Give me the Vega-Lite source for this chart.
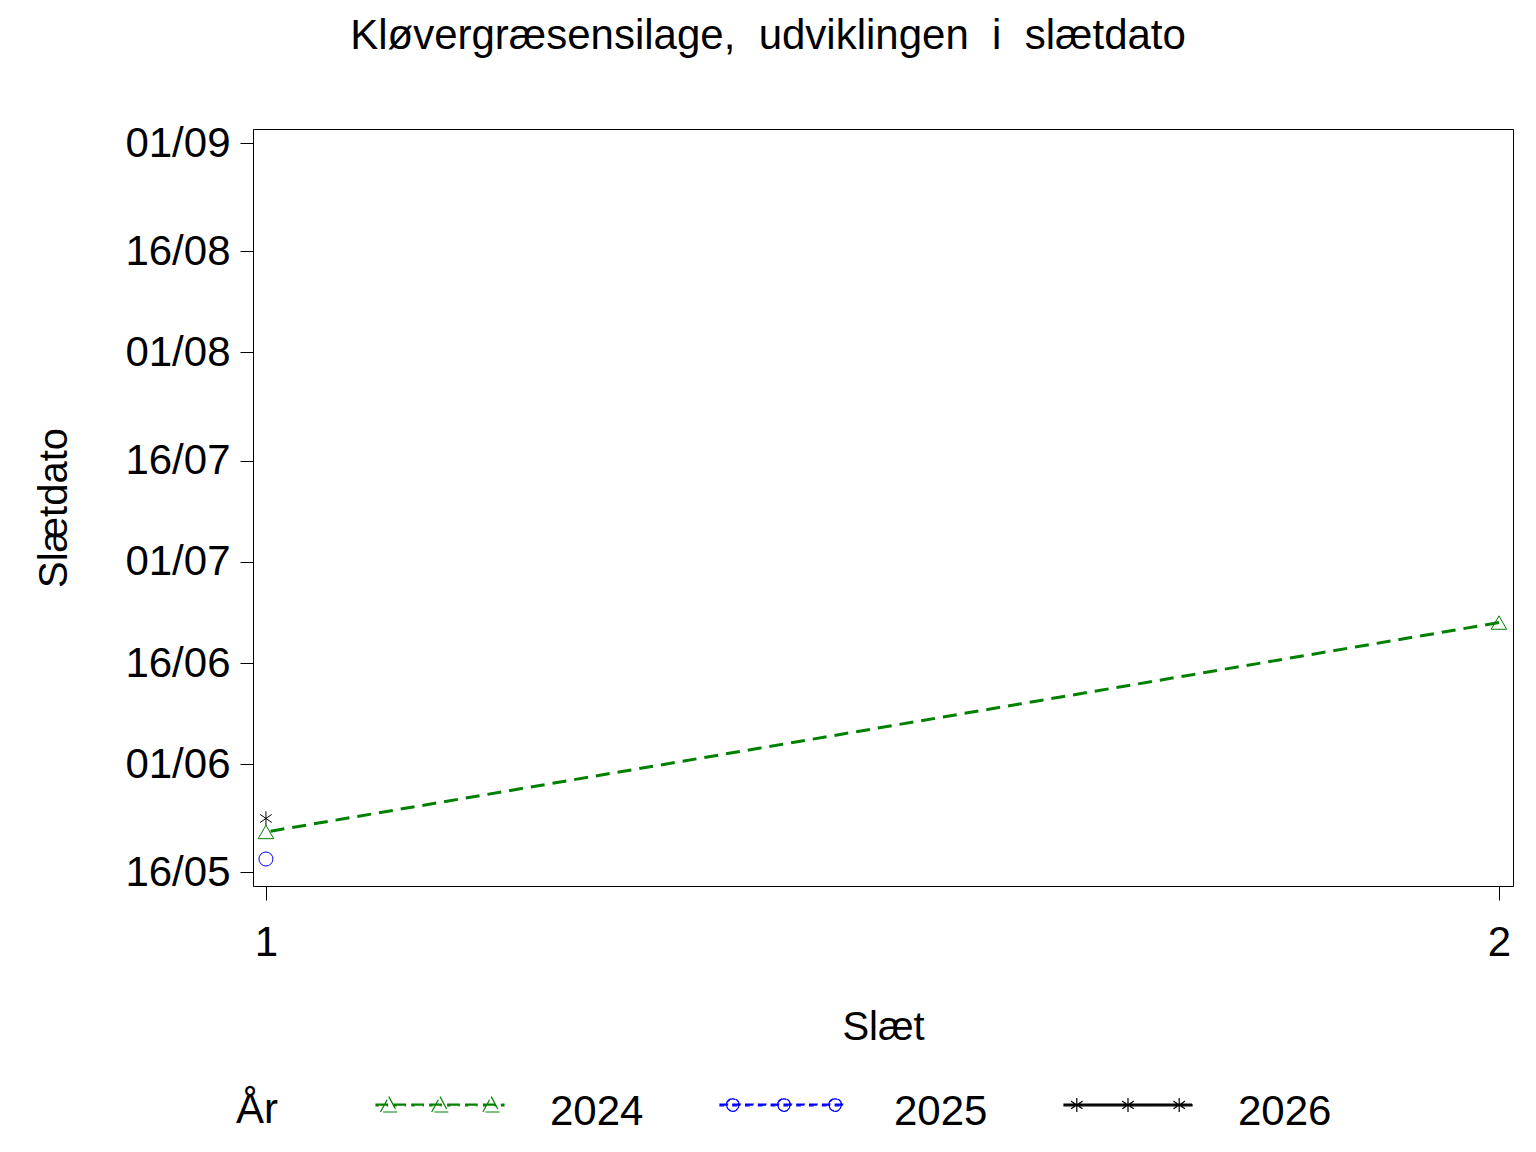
{
  "$schema": "https://vega.github.io/schema/vega-lite/v6.json",
  "width": 1260,
  "height": 757,
  "autosize": "none",
  "padding": {"left": 253, "top": 129, "right": 23, "bottom": 266},
  "title": {
    "text": "Kløvergræsensilage,\u00a0 udviklingen\u00a0 i\u00a0 slætdato",
    "fontSize": 42,
    "fontWeight": "normal",
    "color": "black",
    "anchor": "middle",
    "frame": "group",
    "dx": -115,
    "offset": 64
  },
  "data": {
    "values": [
      {"aar": "2024", "slaet": 1, "slaetdato": "2024-05-22"},
      {"aar": "2024", "slaet": 2, "slaetdato": "2024-06-22"},
      {"aar": "2025", "slaet": 1, "slaetdato": "2024-05-18"},
      {"aar": "2026", "slaet": 1, "slaetdato": "2024-05-24"}
    ]
  },
  "encoding": {
    "x": {
      "field": "slaet",
      "type": "quantitative",
      "scale": {"domain": [0.9895, 2.0114], "nice": false, "zero": false},
      "axis": {
        "values": [1, 2],
        "format": "d",
        "title": "Slæt",
        "tickSize": 14,
        "labelPadding": 22,
        "titlePadding": 44,
        "labelFlush": false
      }
    },
    "y": {
      "field": "slaetdato",
      "type": "temporal",
      "scale": {
        "type": "utc",
        "nice": false,
        "domain": [
          {"year": 2024, "month": 5, "date": 14, "utc": true},
          {"year": 2024, "month": 9, "date": 3, "hours": 2, "utc": true}
        ]
      },
      "axis": {
        "title": "Slætdato",
        "format": "%d/%m",
        "values": [
          {"year": 2024, "month": 5, "date": 16, "utc": true},
          {"year": 2024, "month": 6, "date": 1, "utc": true},
          {"year": 2024, "month": 6, "date": 16, "utc": true},
          {"year": 2024, "month": 7, "date": 1, "utc": true},
          {"year": 2024, "month": 7, "date": 16, "utc": true},
          {"year": 2024, "month": 8, "date": 1, "utc": true},
          {"year": 2024, "month": 8, "date": 16, "utc": true},
          {"year": 2024, "month": 9, "date": 1, "utc": true}
        ],
        "tickSize": 13,
        "labelPadding": 10,
        "titlePadding": 50
      }
    },
    "color": {
      "field": "aar",
      "type": "nominal",
      "scale": {"domain": ["2024", "2025", "2026"], "range": ["#008000", "#0000ff", "#000000"]},
      "legend": {
        "orient": "none",
        "legendX": -17,
        "legendY": 918,
        "direction": "horizontal",
        "title": "År",
        "titleOrient": "left",
        "titleAnchor": "middle",
        "titleBaseline": "top",
        "titleFontSize": 42,
        "titleFontWeight": "normal",
        "titleColor": "black",
        "titlePadding": 97,
        "labelFontSize": 42,
        "labelColor": "black",
        "labelOffset": 45,
        "columnPadding": 73,
        "symbolSize": 16384,
        "symbolStrokeWidth": 1.2,
        "encode": {
          "symbols": {
            "update": {
              "shape": {"signal": "datum.value == '2024' ? 'M-1,-0.124L-0.82,-0.124L-0.82,-0.096L-1,-0.096Z M-0.72,-0.124L-0.54,-0.124L-0.54,-0.096L-0.72,-0.096Z M-0.44,-0.124L-0.26,-0.124L-0.26,-0.096L-0.44,-0.096Z M-0.16,-0.124L0.02,-0.124L0.02,-0.096L-0.16,-0.096Z M0.12,-0.124L0.3,-0.124L0.3,-0.096L0.12,-0.096Z M0.4,-0.124L0.58,-0.124L0.58,-0.096L0.4,-0.096Z M0.68,-0.124L0.86,-0.124L0.86,-0.096L0.68,-0.096Z M0.96,-0.124L1,-0.124L1,-0.096L0.96,-0.096Z M-0.8,-0.24L-0.67,0 M-0.67,0L-0.93,0 M-0.93,0L-0.8,-0.24 M0,-0.24L0.13,0 M0.13,0L-0.13,0 M-0.13,0L0,-0.24 M0.8,-0.24L0.93,0 M0.93,0L0.67,0 M0.67,0L0.8,-0.24' : datum.value == '2025' ? 'M-1,-0.124L-0.88,-0.124L-0.88,-0.096L-1,-0.096Z M-0.8,-0.124L-0.68,-0.124L-0.68,-0.096L-0.8,-0.096Z M-0.6,-0.124L-0.48,-0.124L-0.48,-0.096L-0.6,-0.096Z M-0.4,-0.124L-0.28,-0.124L-0.28,-0.096L-0.4,-0.096Z M-0.2,-0.124L-0.08,-0.124L-0.08,-0.096L-0.2,-0.096Z M0,-0.124L0.12,-0.124L0.12,-0.096L0,-0.096Z M0.2,-0.124L0.32,-0.124L0.32,-0.096L0.2,-0.096Z M0.4,-0.124L0.52,-0.124L0.52,-0.096L0.4,-0.096Z M0.6,-0.124L0.72,-0.124L0.72,-0.096L0.6,-0.096Z M0.8,-0.124L0.92,-0.124L0.92,-0.096L0.8,-0.096Z M-0.9,-0.11A0.1,0.1 0 1,1 -0.7,-0.11A0.1,0.1 0 1,1 -0.9,-0.11Z M-0.894,-0.11A0.094,0.094 0 1,0 -0.706,-0.11A0.094,0.094 0 1,0 -0.894,-0.11Z M-0.1,-0.11A0.1,0.1 0 1,1 0.1,-0.11A0.1,0.1 0 1,1 -0.1,-0.11Z M-0.094,-0.11A0.094,0.094 0 1,0 0.094,-0.11A0.094,0.094 0 1,0 -0.094,-0.11Z M0.7,-0.11A0.1,0.1 0 1,1 0.9,-0.11A0.1,0.1 0 1,1 0.7,-0.11Z M0.706,-0.11A0.094,0.094 0 1,0 0.894,-0.11A0.094,0.094 0 1,0 0.706,-0.11Z' : 'M-1,-0.124L1,-0.124L1,-0.096L-1,-0.096Z M-0.8,-0.22L-0.8,0 M-0.89,-0.17L-0.71,-0.05 M-0.89,-0.05L-0.71,-0.17 M0,-0.22L0,0 M-0.09,-0.17L0.09,-0.05 M-0.09,-0.05L0.09,-0.17 M0.8,-0.22L0.8,0 M0.71,-0.17L0.89,-0.05 M0.71,-0.05L0.89,-0.17'"},
              "fill": {"signal": "scale('color', datum.value)"},
              "stroke": {"signal": "scale('color', datum.value)"},
              "strokeWidth": {"value": 1.2},
              "strokeDash": {"value": [1, 0]},
              "opacity": {"value": 1}
            }
          }
        }
      }
    }
  },
  "layer": [
    {
      "mark": {"type": "line", "strokeWidth": 3},
      "encoding": {
        "strokeDash": {
          "field": "aar",
          "type": "nominal",
          "scale": {"domain": ["2024", "2025", "2026"], "range": [[14, 8], [8, 5], [1, 0]]},
          "legend": null
        }
      }
    },
    {
      "transform": [{"filter": "datum.aar == '2024'"}],
      "mark": {"type": "point", "shape": "triangle-up", "filled": false, "strokeWidth": 1, "size": 240, "opacity": 1}
    },
    {
      "transform": [{"filter": "datum.aar == '2025'"}],
      "mark": {"type": "point", "shape": "circle", "filled": false, "strokeWidth": 1, "size": 196, "opacity": 1}
    },
    {
      "transform": [{"filter": "datum.aar == '2026'"}],
      "mark": {"type": "point", "shape": "M0,-1L0,1M-0.82,-0.57L0.82,0.57M-0.82,0.57L0.82,-0.57", "filled": false, "strokeWidth": 1, "size": 200, "opacity": 1}
    }
  ],
  "config": {
    "font": "Liberation Sans",
    "background": "white",
    "view": {"stroke": "black", "strokeWidth": 1},
    "axis": {
      "grid": false,
      "domain": false,
      "labelColor": "black",
      "titleColor": "black",
      "tickColor": "black",
      "labelFontSize": 42,
      "titleFontSize": 40,
      "titleFontWeight": "normal"
    }
  }
}
